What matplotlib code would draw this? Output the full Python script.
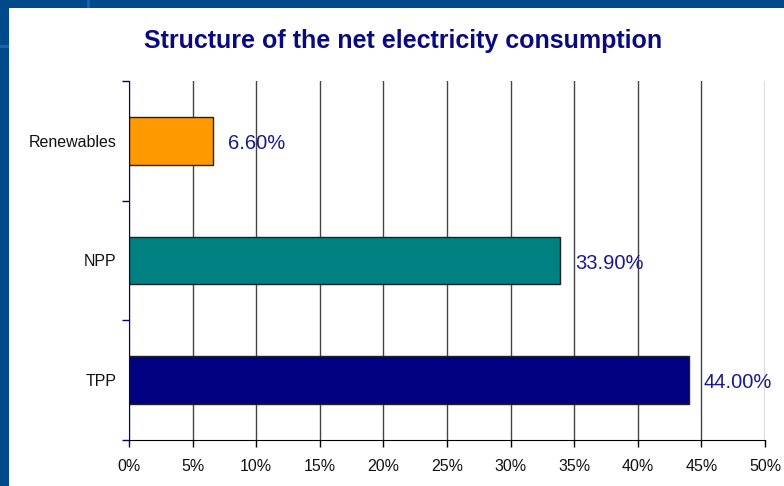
import matplotlib.pyplot as plt
from matplotlib.patches import Rectangle
from matplotlib.lines import Line2D
from matplotlib.ticker import FixedLocator, PercentFormatter

categories = ["TPP", "NPP", "Renewables"]
shares = [44.00, 33.90, 6.60]
bar_colors = ["#000080", "#008080", "#FF9900"]
x_ticks = [0, 5, 10, 15, 20, 25, 30, 35, 40, 45, 50]

plt.rcParams['font.family'] = ['Liberation Sans', 'DejaVu Sans']

W, H = 784, 486
fig = plt.figure(figsize=(W / 100, H / 100), dpi=100)
fig.patch.set_facecolor("#004A8C")

# slide background: blue frame with a white content panel
fig.add_artist(Line2D([88 / W, 88 / W], [1 - 8 / H, 1], transform=fig.transFigure,
                      color="#1565B5", lw=2, zorder=0))
fig.add_artist(Line2D([0, 9 / W], [1 - 46 / H, 1 - 46 / H], transform=fig.transFigure,
                      color="#1565B5", lw=2, zorder=0))
fig.add_artist(Rectangle((9 / W, 0), 1 - 9 / W, 1 - 8 / H, transform=fig.transFigure,
                         facecolor="white", edgecolor="none", zorder=0))

ax = fig.add_axes([129 / W, 1 - 440 / H, (765 - 129) / W, (440 - 81) / H])
ax.set_facecolor("white")

ypos = list(range(len(categories)))
ax.barh(ypos, shares, height=0.4, color=bar_colors, edgecolor="#222222", linewidth=1, zorder=3)

for y, v in zip(ypos, shares):
    ax.annotate(f"{v:.2f}%", (v, y), xytext=(10.5, -2), textcoords="offset points",
                ha="left", va="center", color="#1A1A8C", fontsize=14.5, zorder=4)

ax.set_xlim(0, 50)
ax.set_ylim(-0.5, len(categories) - 0.5)
ax.xaxis.set_major_locator(FixedLocator(x_ticks))
ax.xaxis.set_major_formatter(PercentFormatter(decimals=0))
ax.grid(axis="x", color="#444444", linewidth=1, zorder=1)
ax.set_axisbelow(True)

ax.set_yticks(ypos)
ax.set_yticklabels(categories)
ax.set_yticks([-0.5, 0.5, 1.5, 2.5], minor=True)
ax.tick_params(axis="y", which="major", length=0, pad=9, labelsize=11.5, labelcolor="#111111")
ax.tick_params(axis="y", which="minor", length=5, color="#000080", width=1)
ax.tick_params(axis="x", which="major", length=5, width=1, color="black", pad=9,
               labelsize=11.5, labelcolor="#111111")

for s in ("top", "right"):
    ax.spines[s].set_visible(False)
ax.spines["left"].set_color("#000080")
ax.spines["bottom"].set_color("black")
ax.spines["left"].set_zorder(5)
ax.spines["bottom"].set_zorder(5)

fig.text(403 / W, 1 - 41 / H, "Structure of the net electricity consumption",
         ha="center", va="center", fontsize=18, fontweight="bold", color="#0A0A80")

fig.savefig("out.png", dpi=100, facecolor=fig.get_facecolor())
